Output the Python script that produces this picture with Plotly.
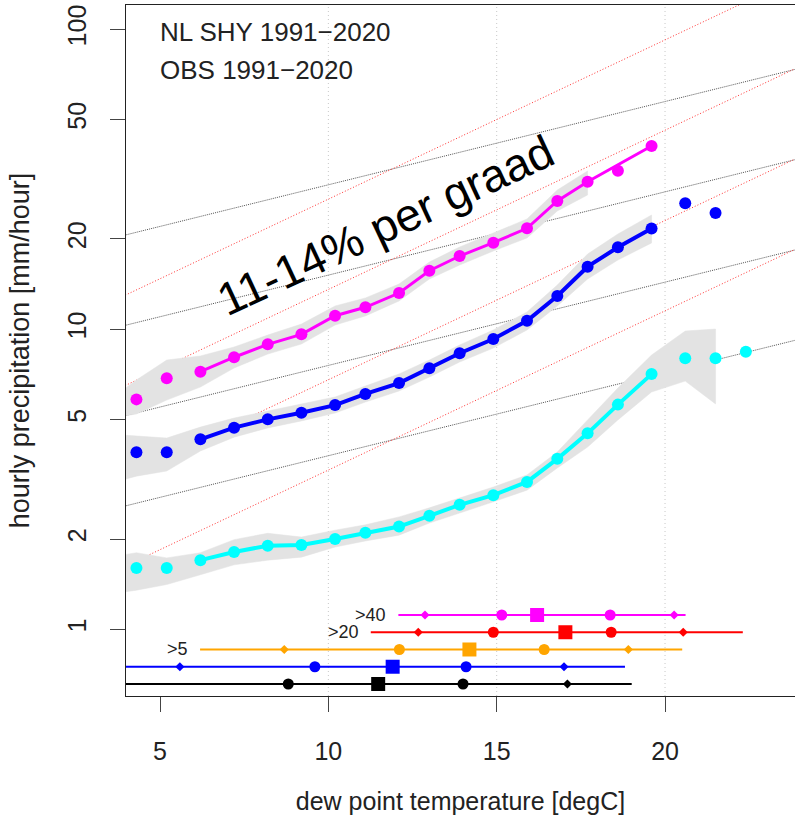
import numpy as np
import plotly.graph_objects as go

# ---- binned dew point temperatures (degC) ----
temps = [4.3, 5.2, 6.2, 7.2, 8.2, 9.2, 10.2, 11.1, 12.1, 13.0, 13.9,
         14.9, 15.9, 16.8, 17.7, 18.6, 19.6, 20.6, 21.5, 22.4]

# ---- hourly precipitation percentiles per bin (mm/hour) ----
magenta_vals = [5.84, 6.87, 7.22, 8.07, 8.91, 9.62, 11.10, 11.84, 13.21, 15.68,
                17.55, 19.44, 21.71, 26.77, 31.05, 33.79, 40.83]
magenta_joined = [0, 0, 1, 1, 1, 1, 1, 1, 1, 1, 1, 1, 1, 1, 1, 0, 1]

blue_vals = [3.89, 3.89, 4.30, 4.70, 5.01, 5.27, 5.59, 6.09, 6.62, 7.41,
             8.32, 9.28, 10.68, 12.91, 16.17, 18.77, 21.68, 26.30, 24.42]
blue_joined = [0, 0, 1, 1, 1, 1, 1, 1, 1, 1, 1, 1, 1, 1, 1, 1, 1, 0, 0]

cyan_vals = [1.60, 1.60, 1.70, 1.81, 1.90, 1.91, 2.00, 2.10, 2.20, 2.39,
             2.60, 2.80, 3.10, 3.70, 4.50, 5.61, 7.09, 8.01, 8.01, 8.42]
cyan_joined = [0, 0, 1, 1, 1, 1, 1, 1, 1, 1, 1, 1, 1, 1, 1, 1, 1, 0, 0, 0]

# ---- uncertainty bands ----
magenta_band_t = [3.9] + temps[:15]
magenta_hi = [6.28, 6.78, 7.90, 8.15, 8.73, 9.57, 10.41, 11.96, 12.72, 14.16,
              16.76, 18.81, 20.94, 23.32, 29.13, 33.71]
magenta_lo = [5.14, 5.22, 5.81, 6.42, 7.43, 8.27, 8.93, 10.33, 11.08, 12.43,
              14.71, 16.38, 18.24, 20.16, 24.80, 28.04]

blue_band_t = [3.9] + temps[:17]
blue_hi = [4.44, 4.41, 4.34, 4.72, 5.06, 5.34, 5.64, 5.95, 6.47, 7.10,
           7.90, 8.87, 9.95, 11.42, 14.05, 17.82, 20.78, 24.05]
blue_lo = [3.15, 3.24, 3.37, 3.93, 4.37, 4.69, 4.95, 5.26, 5.72, 6.23,
           6.93, 7.78, 8.66, 9.95, 11.96, 14.71, 17.02, 19.40]

cyan_band_t = [3.9] + temps[:19]
cyan_hi = [1.77, 1.80, 1.73, 1.80, 1.99, 2.09, 2.03, 2.14, 2.23, 2.37,
           2.54, 2.74, 2.98, 3.27, 3.90, 4.99, 6.37, 8.21, 9.87, 10.02]
cyan_lo = [1.33, 1.35, 1.41, 1.52, 1.64, 1.70, 1.74, 1.88, 1.97, 2.06,
           2.26, 2.44, 2.66, 2.91, 3.45, 4.05, 4.99, 6.18, 6.72, 5.64]

# ---- scaling guide lines: value at 0 degC and growth per degree ----
cc_bases = [2, 4, 8, 16]
cc_rate = 1.066
super_bases = [1, 2, 4, 8]
super_rate = 1.13

# ---- dew point distributions (min, p05, p25, median, p75, p95, max) ----
row_labels = ["", "", ">5", ">20", ">40"]
row_colors = ["#000000", "#0000FF", "#FFA500", "#FF0000", "#FF00FF"]
row_min = [-3.0, -2.0, 6.19, 11.26, 12.08]
row_p05 = [2.8, 5.59, 8.69, 12.67, 12.87]
row_p25 = [8.81, 9.60, 12.11, 14.90, 15.15]
row_med = [11.48, 11.91, 14.19, 17.04, 16.20]
row_p75 = [14.00, 14.09, 16.41, 18.40, 18.37]
row_p95 = [17.10, 17.00, 18.91, 20.54, 20.27]
row_max = [19.01, 18.81, 20.51, 22.31, 20.61]

x_ticks = [5, 10, 15, 20]
grid_x = [10, 15, 20]
y_ticks = [1, 2, 5, 10, 20, 50, 100]

FONT = "Liberation Sans, Arial, Helvetica, sans-serif"
fig = go.Figure()

# guide lines
gx = np.array([3.0, 25.0])
for b in cc_bases:
    fig.add_trace(go.Scatter(x=gx, y=b * cc_rate ** gx, mode="lines",
                             line=dict(color="#555555", width=1, dash="1px,1px"),
                             hoverinfo="skip", showlegend=False))
for b in super_bases:
    fig.add_trace(go.Scatter(x=gx, y=b * super_rate ** gx, mode="lines",
                             line=dict(color="#ff3030", width=1, dash="1px,2px"),
                             hoverinfo="skip", showlegend=False))

# bands
for bt, hi, lo in [(magenta_band_t, magenta_hi, magenta_lo),
                   (blue_band_t, blue_hi, blue_lo),
                   (cyan_band_t, cyan_hi, cyan_lo)]:
    fig.add_trace(go.Scatter(x=bt + bt[::-1], y=hi + lo[::-1], mode="lines",
                             fill="toself", fillcolor="#e3e3e3",
                             line=dict(color="#e3e3e3", width=0.5),
                             hoverinfo="skip", showlegend=False))

# series: joined line + all points
for vals, joined, col, lw in [(magenta_vals, magenta_joined, "#FF00FF", 3),
                              (blue_vals, blue_joined, "#0000FF", 4),
                              (cyan_vals, cyan_joined, "#00FFFF", 4)]:
    t = temps[:len(vals)]
    lx = [x for x, j in zip(t, joined) if j]
    ly = [v for v, j in zip(vals, joined) if j]
    fig.add_trace(go.Scatter(x=lx, y=ly, mode="lines",
                             line=dict(color=col, width=lw),
                             hoverinfo="skip", showlegend=False))
    fig.add_trace(go.Scatter(x=t, y=vals, mode="markers",
                             marker=dict(color=col, size=12, line=dict(width=0)),
                             showlegend=False))

# distribution rows on a secondary linear axis
for i in range(len(row_colors)):
    c = row_colors[i]
    fig.add_trace(go.Scatter(x=[row_min[i], row_max[i]], y=[i, i], yaxis="y2",
                             mode="lines", line=dict(color=c, width=2),
                             hoverinfo="skip", showlegend=False))
    fig.add_trace(go.Scatter(x=[row_p05[i], row_p95[i]], y=[i, i], yaxis="y2",
                             mode="markers", marker=dict(color=c, size=7, symbol="diamond"),
                             showlegend=False))
    fig.add_trace(go.Scatter(x=[row_p25[i], row_p75[i]], y=[i, i], yaxis="y2",
                             mode="markers", marker=dict(color=c, size=11),
                             showlegend=False))
    fig.add_trace(go.Scatter(x=[row_med[i]], y=[i], yaxis="y2",
                             mode="markers", marker=dict(color=c, size=14, symbol="square"),
                             showlegend=False))
    if row_labels[i]:
        fig.add_annotation(x=row_min[i], y=i, yref="y2", text=row_labels[i],
                           xanchor="right", yanchor="middle", xshift=-10,
                           showarrow=False, font=dict(family=FONT, size=18, color="#222"))

for gxv in grid_x:
    fig.add_shape(type="line", x0=gxv, x1=gxv, y0=0, y1=1, xref="x", yref="paper",
                  line=dict(color="#c8c8c8", width=1, dash="1px,3px"), layer="below")

fig.add_annotation(x=0.0478, y=0.961, xref="paper", yref="paper",
                   text="NL SHY 1991\u22122020", xanchor="left", yanchor="middle",
                   showarrow=False, font=dict(family=FONT, size=26, color="#222"))
fig.add_annotation(x=0.0478, y=0.906, xref="paper", yref="paper",
                   text="OBS 1991\u22122020", xanchor="left", yanchor="middle",
                   showarrow=False, font=dict(family=FONT, size=26, color="#222"))
fig.add_annotation(x=0.3886, y=0.6816, xref="paper", yref="paper",
                   text="11-14% per graad", textangle=-25,
                   xanchor="center", yanchor="middle",
                   showarrow=False, font=dict(family=FONT, size=46, color="#000"))

fig.update_layout(
    width=795, height=815,
    margin=dict(l=126, r=0, t=5, b=119),
    paper_bgcolor="white", plot_bgcolor="white",
    font=dict(family=FONT, color="#222"),
    xaxis=dict(range=[3.99, 23.86], tickvals=x_ticks, ticktext=[str(v) for v in x_ticks],
               showgrid=False, zeroline=False, showline=True, mirror=True,
               linecolor="#222", linewidth=1, ticks="outside", ticklen=15,
               tickcolor="#444", tickfont=dict(size=25), ticklabelstandoff=18,
               title=dict(text="dew point temperature [degC]", font=dict(size=25), standoff=28)),
    yaxis=dict(type="log", range=[-0.2223, 2.081], tickvals=y_ticks,
               ticktext=[str(v) for v in y_ticks], tickangle=-90,
               showgrid=False, zeroline=False, showline=True, linecolor="#222",
               linewidth=1, ticks="outside", ticklen=15, tickcolor="#444",
               tickfont=dict(size=25), ticklabelstandoff=14, layer="below traces",
               title=dict(text="hourly precipitation [mm/hour]", font=dict(size=27), standoff=25)),
    yaxis2=dict(overlaying="y", range=[-0.696, 39.36], visible=False),
)

fig.write_html("out.html")
